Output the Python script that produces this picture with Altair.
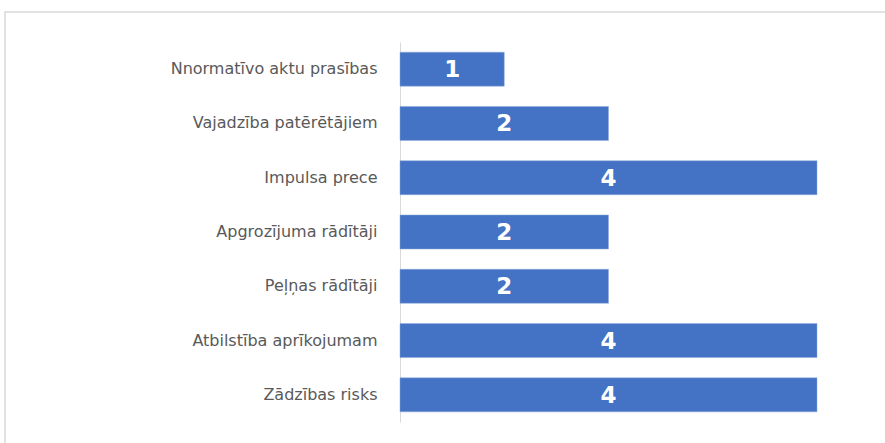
import altair as alt
import pandas as pd

categories = [
    "Nnormatīvo aktu prasības",
    "Vajadzība patērētājiem",
    "Impulsa prece",
    "Apgrozījuma rādītāji",
    "Peļņas rādītāji",
    "Atbilstība aprīkojumam",
    "Zādzības risks",
]
values = [1, 2, 4, 2, 2, 4, 4]

df = pd.DataFrame({"cat": categories, "val": values})

base = alt.Chart(df).encode(
    y=alt.Y(
        "cat:N",
        sort=categories,
        title=None,
        scale=alt.Scale(paddingInner=0.374, paddingOuter=0.187),
        axis=alt.Axis(
            ticks=False,
            domainColor="#d9d9d9",
            domainWidth=1,
            labelColor="#595959",
            labelFont="DejaVu Sans",
            labelFontSize=16,
            labelPadding=23,
            labelLimit=400,
        ),
    )
)

bars = base.mark_bar(color="#4472C4", stroke="#8faadc", strokeWidth=0.5).encode(
    x=alt.X("val:Q", axis=None, scale=alt.Scale(domain=[0, 4], nice=False))
)

labels = base.transform_calculate(mid="datum.val / 2").mark_text(
    color="white", font="DejaVu Sans", fontSize=23, fontWeight="bold",
    baseline="middle", align="center", dy=1
).encode(
    x=alt.X("mid:Q", axis=None, scale=alt.Scale(domain=[0, 4], nice=False)),
    text=alt.Text("val:Q"),
)

border = alt.Chart(df).mark_rect(fill=None, stroke="#d9d9d9", strokeWidth=1.5).encode(
    x=alt.value(-395), x2=alt.value(700), y=alt.value(-30), y2=alt.value(500)
).transform_filter(alt.datum.cat == categories[0])

chart = alt.layer(border, bars, labels).properties(
    width=417,
    height=380,
    padding={"left": 400, "top": 42, "right": 68, "bottom": 21},
    autosize=alt.AutoSizeParams(type="none"),
).configure(background="white").configure_view(stroke=None)

chart.save("out.html", embed_options={"renderer": "svg", "actions": False})
